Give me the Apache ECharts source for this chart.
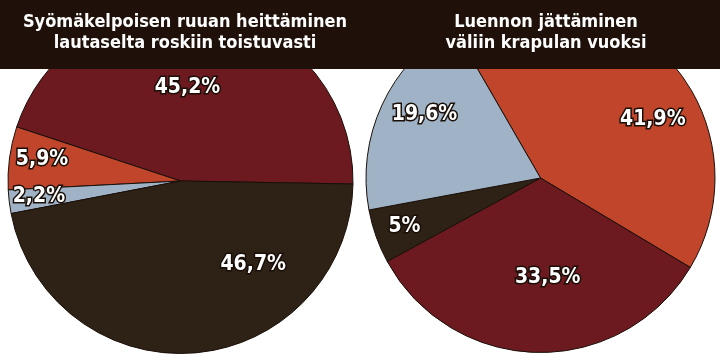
<!DOCTYPE html>
<html>
<head>
<meta charset="utf-8">
<script src="https://cdn.jsdelivr.net/npm/echarts@6/dist/echarts.min.js"></script>
<style>
html,body{margin:0;padding:0;background:#ffffff;}
#chart{width:720px;height:360px;}
</style>
</head>
<body>
<div id="chart"></div>
<script>
// ---- data ----
var leftTitle = 'Syömäkelpoisen ruuan heittäminen\nlautaselta roskiin toistuvasti';
var rightTitle = 'Luennon jättäminen\nväliin krapulan vuoksi';

var leftCategories = ['A', 'B', 'C', 'D'];
var leftValues = [45.2, 5.9, 2.2, 46.7];
var leftLabels = ['45,2%', '5,9%', '2,2%', '46,7%'];

var rightCategories = ['A', 'B', 'C', 'D'];
var rightValues = [41.9, 33.5, 5, 19.6];
var rightLabels = ['41,9%', '33,5%', '5%', '19,6%'];

// ---- styling ----
var leftColors = ['#6c1a20', '#c0452b', '#a0b3c6', '#2e2217'];
var rightColors = ['#c0452b', '#6c1a20', '#2e2217', '#a0b3c6'];
var leftLabelShift = [[-8, -5], [-50, -10], [-53, 5], [65, -5]];
var rightLabelShift = [[48, 5], [9, 9], [-51, 18], [-34, -26]];

function buildData(cats, vals, labels, colors, shifts) {
  return vals.map(function (v, i) {
    return {
      name: cats[i],
      value: v,
      itemStyle: { color: colors[i] },
      label: { formatter: labels[i], offset: shifts[i] }
    };
  });
}

var labelStyle = {
  show: true,
  position: 'inside',
  color: '#ffffff',
  fontFamily: 'DejaVu Sans Condensed',
  fontWeight: 'bold',
  fontSize: 21,
  textBorderColor: '#1a0f08',
  textBorderWidth: 3
};

var titleText = { color: '#ffffff', fontFamily: 'DejaVu Sans Condensed', fontWeight: 'bold', fontSize: 18, lineHeight: 21 };

var chart = echarts.init(document.getElementById('chart'), null, { renderer: 'canvas' });
chart.setOption({
  animation: false,
  backgroundColor: '#ffffff',
  graphic: [{
    type: 'rect',
    z: 10,
    shape: { x: 0, y: 0, width: 720, height: 69 },
    style: { fill: '#1f1109' }
  }],
  title: [{
    text: leftTitle,
    left: 180, top: 7, textAlign: 'center', z: 20,
    textStyle: titleText
  }, {
    text: rightTitle,
    left: 541, top: 7, textAlign: 'center', z: 20,
    textStyle: titleText
  }],
  series: [{
    type: 'pie',
    center: [180.5, 181],
    radius: [0, 172.5],
    startAngle: -1,
    clockwise: false,
    avoidLabelOverlap: false,
    labelLine: { show: false },
    itemStyle: { borderColor: '#1a0f08', borderWidth: 1 },
    emphasis: { disabled: true },
    label: labelStyle,
    data: buildData(leftCategories, leftValues, leftLabels, leftColors, leftLabelShift)
  }, {
    type: 'pie',
    center: [540.5, 178],
    radius: [0, 174.5],
    startAngle: 120,
    clockwise: true,
    avoidLabelOverlap: false,
    labelLine: { show: false },
    itemStyle: { borderColor: '#1a0f08', borderWidth: 1 },
    emphasis: { disabled: true },
    label: labelStyle,
    data: buildData(rightCategories, rightValues, rightLabels, rightColors, rightLabelShift)
  }]
});
</script>
</body>
</html>
